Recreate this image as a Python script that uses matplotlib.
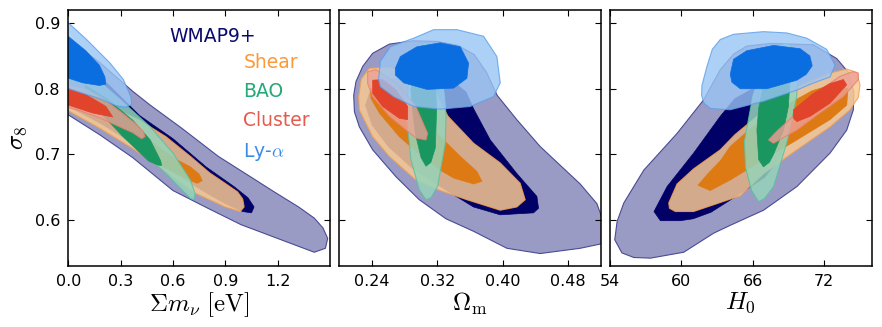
import matplotlib.pyplot as plt

plt.rcParams['mathtext.fontset'] = 'cm'

# ---------------- panel 1 : sum m_nu vs sigma8 ----------------
mnu_wmap95 = [-0.01, 0.18, 0.37, 0.47, 0.65, 0.86, 1.05, 1.18, 1.32, 1.41, 1.46, 1.487, 1.474, 1.41, 1.27, 0.99, 0.80, 0.60, 0.37, 0.18, -0.01]
s8_mnu_wmap95 = [0.878, 0.840, 0.796, 0.775, 0.740, 0.697, 0.665, 0.643, 0.620, 0.603, 0.588, 0.572, 0.557, 0.551, 0.565, 0.593, 0.618, 0.645, 0.695, 0.730, 0.762]
mnu_wmap68 = [-0.01, 0.20, 0.41, 0.60, 0.79, 0.95, 1.03, 1.065, 1.05, 1.00, 0.90, 0.80, 0.60, 0.40, 0.20, -0.01]
s8_mnu_wmap68 = [0.858, 0.814, 0.759, 0.724, 0.681, 0.651, 0.634, 0.620, 0.611, 0.613, 0.625, 0.640, 0.672, 0.712, 0.745, 0.775]

mnu_shear95 = [-0.01, 0.20, 0.41, 0.56, 0.70, 0.81, 0.91, 0.97, 1.00, 1.008, 0.986, 0.90, 0.72, 0.56, 0.37, 0.18, -0.01]
s8_mnu_shear95 = [0.805, 0.777, 0.752, 0.727, 0.697, 0.672, 0.654, 0.643, 0.632, 0.620, 0.613, 0.620, 0.642, 0.674, 0.709, 0.740, 0.768]
mnu_shear68 = [0.45, 0.55, 0.622, 0.70, 0.75, 0.768, 0.74, 0.70, 0.64, 0.55, 0.45]
s8_mnu_shear68 = [0.725, 0.705, 0.692, 0.681, 0.670, 0.660, 0.656, 0.660, 0.668, 0.680, 0.698]

mnu_bao95 = [-0.01, 0.15, 0.30, 0.47, 0.60, 0.70, 0.727, 0.72, 0.70, 0.56, 0.37, 0.18, -0.01]
s8_mnu_bao95 = [0.845, 0.818, 0.783, 0.742, 0.702, 0.661, 0.640, 0.631, 0.633, 0.671, 0.717, 0.763, 0.795]
mnu_bao68 = [0.10, 0.22, 0.37, 0.47, 0.53, 0.535, 0.51, 0.46, 0.31, 0.18, 0.08]
s8_mnu_bao68 = [0.805, 0.785, 0.752, 0.722, 0.690, 0.683, 0.684, 0.690, 0.728, 0.765, 0.790]

mnu_clus95 = [-0.01, 0.10, 0.20, 0.30, 0.38, 0.43, 0.44, 0.42, 0.37, 0.178, 0.05, -0.01]
s8_mnu_clus95 = [0.808, 0.800, 0.785, 0.765, 0.748, 0.735, 0.727, 0.724, 0.733, 0.756, 0.768, 0.772]
mnu_clus68 = [-0.01, 0.102, 0.216, 0.255, 0.14, -0.01]
s8_mnu_clus68 = [0.802, 0.791, 0.773, 0.757, 0.763, 0.776]

mnu_lya95 = [-0.01, 0.105, 0.24, 0.316, 0.36, 0.363, 0.33, 0.277, 0.18, -0.01]
s8_mnu_lya95 = [0.903, 0.875, 0.839, 0.814, 0.787, 0.776, 0.772, 0.774, 0.785, 0.801]
mnu_lya68 = [-0.01, 0.10, 0.178, 0.21, 0.215, 0.178, 0.083, -0.01]
s8_mnu_lya68 = [0.882, 0.858, 0.836, 0.818, 0.807, 0.805, 0.809, 0.817]

# ---------------- panel 2 : Omega_m vs sigma8 ----------------
om_wmap95 = [0.2176, 0.2204, 0.2286, 0.2408, 0.2612, 0.29, 0.32, 0.345, 0.365, 0.38, 0.393, 0.417, 0.4456, 0.4945, 0.515, 0.525, 0.525, 0.4945, 0.4456, 0.405, 0.364, 0.3304, 0.2978, 0.2693, 0.2408, 0.2245, 0.2185]
s8_om_wmap95 = [0.790, 0.811, 0.834, 0.854, 0.868, 0.873, 0.872, 0.866, 0.852, 0.825, 0.790, 0.753, 0.712, 0.655, 0.625, 0.590, 0.565, 0.557, 0.549, 0.557, 0.583, 0.602, 0.631, 0.666, 0.707, 0.742, 0.765]
om_wmap68 = [0.232, 0.238, 0.255, 0.28, 0.31, 0.34, 0.355, 0.364, 0.3846, 0.417, 0.4416, 0.4436, 0.4375, 0.3968, 0.364, 0.33, 0.29, 0.26, 0.24]
s8_om_wmap68 = [0.775, 0.797, 0.812, 0.818, 0.818, 0.810, 0.795, 0.770, 0.722, 0.671, 0.636, 0.618, 0.611, 0.608, 0.620, 0.646, 0.678, 0.712, 0.745]

om_shear95 = [0.2237, 0.2270, 0.2367, 0.2612, 0.2815, 0.302, 0.318, 0.333, 0.3642, 0.3968, 0.4212, 0.4273, 0.4171, 0.3968, 0.356, 0.3235, 0.2937, 0.2612, 0.2408, 0.2245]
s8_om_shear95 = [0.788, 0.815, 0.831, 0.833, 0.825, 0.810, 0.792, 0.758, 0.717, 0.687, 0.656, 0.631, 0.620, 0.615, 0.631, 0.645, 0.661, 0.697, 0.727, 0.768]
om_shear68 = [0.238, 0.25, 0.27, 0.30, 0.3275, 0.3479, 0.3683, 0.3744, 0.3642, 0.3398, 0.3235, 0.2937, 0.2734, 0.249, 0.2388]
s8_om_shear68 = [0.800, 0.802, 0.787, 0.755, 0.722, 0.697, 0.674, 0.659, 0.655, 0.664, 0.676, 0.705, 0.727, 0.763, 0.785]

om_bao95 = [0.3039, 0.295, 0.2856, 0.2815, 0.2876, 0.2978, 0.306, 0.312, 0.3202, 0.3296, 0.3305, 0.3283, 0.3182, 0.3100]
s8_om_bao95 = [0.870, 0.862, 0.825, 0.768, 0.692, 0.646, 0.631, 0.634, 0.651, 0.717, 0.760, 0.793, 0.849, 0.867]
om_bao68 = [0.3031, 0.295, 0.2875, 0.2897, 0.2929, 0.300, 0.306, 0.312, 0.3174, 0.3190, 0.3175, 0.3110]
s8_om_bao68 = [0.852, 0.835, 0.800, 0.768, 0.732, 0.695, 0.682, 0.688, 0.710, 0.768, 0.810, 0.842]

om_clus95 = [0.2347, 0.2449, 0.2693, 0.2937, 0.308, 0.306, 0.2937, 0.2612, 0.2408, 0.2347]
s8_om_clus95 = [0.826, 0.829, 0.809, 0.773, 0.732, 0.722, 0.725, 0.758, 0.788, 0.808]
om_clus68 = [0.2408, 0.253, 0.2693, 0.2836, 0.2836, 0.2734, 0.253, 0.2408]
s8_om_clus68 = [0.813, 0.814, 0.798, 0.773, 0.753, 0.755, 0.773, 0.793]

om_lya95 = [0.2481, 0.2502, 0.2624, 0.2909, 0.3153, 0.3438, 0.3764, 0.3927, 0.3968, 0.3886, 0.36, 0.3235, 0.2909, 0.2665, 0.2502]
s8_om_lya95 = [0.814, 0.842, 0.864, 0.877, 0.890, 0.890, 0.880, 0.849, 0.809, 0.788, 0.773, 0.769, 0.773, 0.788, 0.803]
om_lya68 = [0.2685, 0.2746, 0.295, 0.3235, 0.3479, 0.3581, 0.356, 0.3398, 0.3072, 0.2787, 0.2685]
s8_om_lya68 = [0.831, 0.849, 0.864, 0.870, 0.864, 0.839, 0.816, 0.801, 0.799, 0.809, 0.821]

# ---------------- panel 3 : H0 vs sigma8 ----------------
h0_wmap95 = [54.6, 55.16, 56.84, 59.64, 61.87, 63.27, 64.4, 65.5, 67.47, 71.1, 73.06, 74.04, 74.5, 74.46, 73.9, 72.5, 69.71, 66.91, 64.11, 62.71, 60.2, 57.4, 56.0, 55.0, 54.4]
s8_h0_wmap95 = [0.598, 0.626, 0.676, 0.732, 0.783, 0.829, 0.853, 0.865, 0.869, 0.867, 0.846, 0.825, 0.795, 0.768, 0.737, 0.702, 0.651, 0.615, 0.592, 0.580, 0.551, 0.542, 0.543, 0.550, 0.570]
h0_wmap68 = [57.7, 58.8, 61.03, 63.27, 64.5, 66.0, 67.5, 68.5, 69.0, 68.5, 67.0, 64.5, 62.5, 61.0, 59.9, 58.24]
s8_h0_wmap68 = [0.613, 0.651, 0.702, 0.758, 0.785, 0.800, 0.800, 0.780, 0.745, 0.700, 0.665, 0.635, 0.612, 0.602, 0.599, 0.599]

h0_shear95 = [58.94, 59.64, 61.03, 63.27, 64.5, 66.9, 69.71, 72.3, 73.9, 74.74, 75.02, 74.88, 74.18, 72.5, 69.71, 66.91, 64.95, 61.03, 59.5, 59.0]
s8_h0_shear95 = [0.626, 0.655, 0.678, 0.707, 0.730, 0.766, 0.803, 0.823, 0.830, 0.825, 0.806, 0.787, 0.768, 0.742, 0.707, 0.671, 0.637, 0.613, 0.613, 0.618]
h0_shear68 = [61.4, 62.2, 63.27, 64.11, 66.0, 68.5, 71.0, 73.0, 74.0, 73.9, 72.5, 69.71, 66.91, 64.11, 62.43]
s8_h0_shear68 = [0.653, 0.670, 0.690, 0.712, 0.742, 0.772, 0.797, 0.808, 0.800, 0.775, 0.753, 0.722, 0.692, 0.661, 0.645]

h0_bao95 = [68.6, 67.8, 66.91, 66.0, 65.3, 65.4, 65.9, 66.5, 67.0, 67.75, 68.4, 68.9, 69.7, 69.8, 69.4, 69.0]
s8_h0_bao95 = [0.868, 0.858, 0.840, 0.788, 0.720, 0.680, 0.645, 0.628, 0.633, 0.651, 0.690, 0.720, 0.788, 0.834, 0.859, 0.868]
h0_bao68 = [68.2, 67.5, 66.9, 66.5, 66.35, 66.5, 66.9, 67.4, 67.75, 68.59, 69.0, 69.1, 68.9]
s8_h0_bao68 = [0.845, 0.835, 0.805, 0.770, 0.737, 0.692, 0.681, 0.688, 0.700, 0.737, 0.773, 0.805, 0.835]

h0_clus95 = [67.33, 68.0, 69.71, 71.66, 73.34, 74.4, 74.88, 74.88, 73.62, 71.66, 69.71, 67.75]
s8_h0_clus95 = [0.722, 0.735, 0.763, 0.798, 0.819, 0.826, 0.824, 0.814, 0.788, 0.763, 0.737, 0.717]
h0_clus68 = [69.43, 69.43, 71.1, 72.5, 73.62, 73.9, 72.5, 70.83, 69.71]
s8_h0_clus68 = [0.755, 0.768, 0.793, 0.808, 0.814, 0.806, 0.778, 0.758, 0.750]

h0_lya95 = [61.7, 61.73, 62.15, 62.6, 63.27, 64.39, 66.9, 68.87, 70.55, 72.22, 72.92, 72.5, 71.0, 69.71, 66.91, 64.11, 62.43, 61.9]
s8_h0_lya95 = [0.790, 0.805, 0.834, 0.860, 0.875, 0.883, 0.887, 0.885, 0.877, 0.860, 0.836, 0.818, 0.808, 0.798, 0.781, 0.768, 0.770, 0.778]
h0_lya68 = [64.11, 64.39, 65.51, 67.75, 69.99, 70.8, 71.0, 70.5, 69.71, 67.19, 64.95, 64.25]
s8_h0_lya68 = [0.822, 0.845, 0.858, 0.866, 0.861, 0.850, 0.835, 0.822, 0.813, 0.800, 0.800, 0.810]

probe_names = ['WMAP9+', 'Shear', 'BAO', 'Cluster', r'Ly-$\alpha$']
# (outer fill, outer edge, outer alpha, inner fill, text colour)
styles = [
    ('#999bc4', '#4a4a96', 1.0, '#000066', '#0a0a6e'),
    ('#f9c992', '#f5a050', 0.85, '#de7a14', '#fa9a3a'),
    ('#96d4ba', '#5cc0a0', 0.85, '#1a9660', '#25a877'),
    ('#eda296', '#e8806e', 0.80, '#e1432b', '#e65a4e'),
    ('#99c5f5', '#5a9ee8', 0.80, '#0b6ee0', '#3a8ae8'),
]

panel_data = [
    [(mnu_wmap95, s8_mnu_wmap95, mnu_wmap68, s8_mnu_wmap68),
     (mnu_shear95, s8_mnu_shear95, mnu_shear68, s8_mnu_shear68),
     (mnu_bao95, s8_mnu_bao95, mnu_bao68, s8_mnu_bao68),
     (mnu_clus95, s8_mnu_clus95, mnu_clus68, s8_mnu_clus68),
     (mnu_lya95, s8_mnu_lya95, mnu_lya68, s8_mnu_lya68)],
    [(om_wmap95, s8_om_wmap95, om_wmap68, s8_om_wmap68),
     (om_shear95, s8_om_shear95, om_shear68, s8_om_shear68),
     (om_bao95, s8_om_bao95, om_bao68, s8_om_bao68),
     (om_clus95, s8_om_clus95, om_clus68, s8_om_clus68),
     (om_lya95, s8_om_lya95, om_lya68, s8_om_lya68)],
    [(h0_wmap95, s8_h0_wmap95, h0_wmap68, s8_h0_wmap68),
     (h0_shear95, s8_h0_shear95, h0_shear68, s8_h0_shear68),
     (h0_bao95, s8_h0_bao95, h0_bao68, s8_h0_bao68),
     (h0_clus95, s8_h0_clus95, h0_clus68, s8_h0_clus68),
     (h0_lya95, s8_h0_lya95, h0_lya68, s8_h0_lya68)],
]

xlims = [(0.0, 1.5), (0.20, 0.52), (54, 76)]
xticks = [[0.0, 0.3, 0.6, 0.9, 1.2], [0.24, 0.32, 0.40, 0.48], [54, 60, 66, 72]]
xticklabels = [['0.0', '0.3', '0.6', '0.9', '1.2'], ['0.24', '0.32', '0.40', '0.48'], ['54', '60', '66', '72']]
xlabels = [r'$\Sigma m_\nu\ [\mathrm{eV}]$', r'$\Omega_\mathrm{m}$', r'$H_0$']
lefts = [0.0774, 0.3847, 0.6916]

fig = plt.figure(figsize=(8.82, 3.27), dpi=100)
for i in range(3):
    ax = fig.add_axes([lefts[i], 0.1865, 0.2967, 0.783])
    for j, (x95, y95, x68, y68) in enumerate(panel_data[i]):
        c_out, c_edge, a_out, c_in, _ = styles[j]
        ax.fill(x95, y95, facecolor=c_out, edgecolor=c_edge, alpha=a_out, lw=0.8, zorder=2 * j + 1)
        ax.fill(x68, y68, facecolor=c_in, edgecolor=c_in, lw=0.5, zorder=2 * j + 2)
    ax.set_xlim(*xlims[i])
    ax.set_ylim(0.53, 0.92)
    ax.set_xticks(xticks[i])
    ax.set_xticklabels(xticklabels[i])
    ax.set_yticks([0.6, 0.7, 0.8, 0.9])
    ax.tick_params(direction='in', top=True, right=True, length=4, width=0.8, labelsize=11.5, pad=6)
    for s in ax.spines.values():
        s.set_linewidth(1.1)
        s.set_zorder(20)
    ax.set_xlabel(xlabels[i], fontsize=18, labelpad=1)
    if i == 0:
        ax.set_yticklabels(['0.6', '0.7', '0.8', '0.9'])
        ax.set_ylabel(r'$\sigma_8$', fontsize=18, labelpad=4)
        ax.text(0.553, 0.898, probe_names[0], color=styles[0][4], fontsize=13.5,
                ha='center', va='center', transform=ax.transAxes, zorder=30)
        ypos = [0.793, 0.681, 0.570, 0.446]
        for k in range(1, 5):
            ax.text(0.669, ypos[k - 1], probe_names[k], color=styles[k][4], fontsize=13.5,
                    ha='left', va='center', transform=ax.transAxes, zorder=30)
    else:
        ax.set_yticklabels([])

fig.savefig('out.png', dpi=100)
